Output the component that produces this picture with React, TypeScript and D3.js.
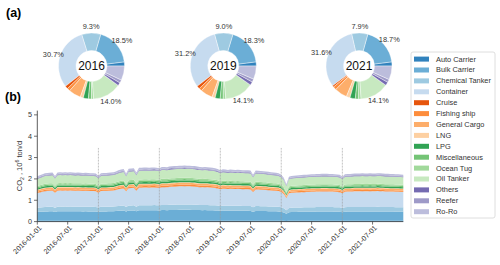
import React from 'react'
import * as d3 from 'd3'

const categories = [
  'Auto Carrier', 'Bulk Carrier', 'Chemical Tanker', 'Container', 'Cruise',
  'Fishing ship', 'General Cargo', 'LNG', 'LPG', 'Miscellaneous',
  'Ocean Tug', 'Oil Tanker', 'Others', 'Reefer', 'Ro-Ro',
]
const colors = [
  '#3182bd', '#6baed6', '#9ecae1', '#c6dbef', '#e6550d',
  '#fd8d3c', '#fdae6b', '#fdd0a2', '#31a354', '#74c476',
  '#a1d99b', '#c7e9c0', '#756bb1', '#9e9ac8', '#bcbddc',
]

// donut shares (%) per year
const pieYears = [2016, 2019, 2021]
const share2016 = [2, 18.5, 9.3, 30.7, 1.5, 1.5, 6, 1.5, 2.5, 1.5, 1, 14.0, 1.5, 1.5, 7]
const share2019 = [2, 18.3, 9.0, 31.2, 1.5, 1.5, 6, 1.5, 2.5, 1.5, 1.2, 14.1, 1.7, 1.5, 6.5]
const share2021 = [2, 18.7, 7.9, 31.6, 0.8, 1.6, 6.2, 1.8, 2.6, 1.6, 1.2, 14.1, 1.7, 1.5, 6.7]
const labeledCategories = ['Bulk Carrier', 'Chemical Tanker', 'Container', 'Oil Tanker']

// share of each category in the stacked area (%)
const areaShare = [1.7, 19.3, 9.5, 32.5, 0.3, 2.5, 3.5, 1, 3, 2.5, 2.5, 16, 1, 1.5, 3.2]

// total CO2 (10^6 ton/d), sampled on the 1st and 16th of each month
const total2016 = [2.12, 2.17, 2.22, 2.26, 2.28, 2.29, 2.30, 2.14, 2.30, 2.31, 2.30, 2.31,
  2.30, 2.31, 2.30, 2.29, 2.30, 2.29, 2.28, 2.29, 2.28, 2.27, 2.27, 2.25]
const total2017 = [2.15, 2.27, 2.28, 2.28, 2.29, 2.30, 2.31, 2.35, 2.40, 2.44, 2.46, 2.25,
  2.48, 2.49, 2.50, 2.30, 2.52, 2.52, 2.53, 2.53, 2.52, 2.53, 2.54, 2.52]
const total2018 = [2.50, 2.56, 2.56, 2.55, 2.58, 2.59, 2.60, 2.61, 2.62, 2.62, 2.63, 2.62,
  2.62, 2.61, 2.60, 2.58, 2.56, 2.55, 2.56, 2.55, 2.53, 2.52, 2.50, 2.47]
const total2019 = [2.40, 2.45, 2.44, 2.42, 2.44, 2.43, 2.42, 2.43, 2.42, 2.41, 2.40, 2.40,
  2.39, 2.20, 2.39, 2.38, 2.37, 2.36, 2.35, 2.33, 2.31, 2.30, 2.29, 2.27]
const total2020 = [2.20, 2.05, 1.75, 2.10, 2.14, 2.15, 2.16, 2.17, 2.18, 2.19, 2.20, 2.21,
  2.22, 2.22, 2.23, 2.23, 2.24, 2.24, 2.24, 2.23, 2.23, 2.22, 2.21, 2.19]
const total2021 = [2.10, 2.22, 2.23, 2.23, 2.24, 2.25, 2.25, 2.25, 2.26, 2.25, 2.25, 2.26,
  2.25, 2.25, 2.27, 2.26, 2.25, 2.24, 2.24, 2.23, 2.23, 2.22, 2.22, 2.21, 2.20]

const xTickLabels = [
  '2016-01-01', '2016-07-01', '2017-01-01', '2017-07-01', '2018-01-01', '2018-07-01',
  '2019-01-01', '2019-07-01', '2020-01-01', '2020-07-01', '2021-01-01', '2021-07-01',
]
const yearLines = ['2017-01-01', '2018-01-01', '2019-01-01', '2020-01-01', '2021-01-01']
const yTicks = [0, 1, 2, 3, 4, 5]

const FONT = '"Liberation Sans", Arial, sans-serif'
const pieCx = [91.5, 223.3, 359]
const pieCy = 66

export default function App() {
  const parse = d3.timeParse('%Y-%m-%d')
  const totals = [...total2016, ...total2017, ...total2018, ...total2019, ...total2020, ...total2021]
  const dates: Date[] = []
  for (let yr = 2016; yr <= 2021; yr++) {
    for (let m = 0; m < 12; m++) {
      dates.push(new Date(yr, m, 1))
      dates.push(new Date(yr, m, 16))
    }
  }
  dates.push(new Date(2022, 0, 1))

  const rows = totals.map((t, i) => {
    const row: any = { date: dates[i] }
    categories.forEach((c, k) => { row[c] = (t * areaShare[k]) / 100 })
    return row
  })
  const series = d3.stack<any>().keys(categories)(rows)

  const x = d3.scaleTime()
    .domain([parse('2016-01-01')!, parse('2022-01-01')!])
    .range([37.3, 403.3])
  const y = d3.scaleLinear().domain([0, 5.2]).range([221.6, 110.6])
  const area = d3.area<any>()
    .x((d) => x(d.data.date))
    .y0((d) => y(d[0]))
    .y1((d) => y(d[1]))

  const pie = d3.pie<number>().value((d) => d).sort(null)
    .startAngle(Math.PI / 2).endAngle(Math.PI / 2 - 2 * Math.PI)
  const arc = d3.arc<any>().innerRadius(15.5).outerRadius(33)
  const shares = [share2016, share2019, share2021]

  return (
    <svg width={500} height={265} style={{ position: 'absolute', left: 0, top: 0, fontFamily: FONT }}>
      <rect width={500} height={265} fill="#fff" />
      <text x={6} y={17} fontSize={12.5} fontWeight="bold">(a)</text>
      <text x={5} y={101} fontSize={12.5} fontWeight="bold">(b)</text>

      {pieYears.map((yr, p) => {
        const arcs = pie(shares[p])
        return (
          <g key={yr} transform={`translate(${pieCx[p]},${pieCy})`}>
            {arcs.map((a, i) => (
              <path key={i} d={arc(a) || ''} fill={colors[i]} stroke="#fff" strokeWidth={0.4} />
            ))}
            {arcs.map((a, i) => {
              if (!labeledCategories.includes(categories[i])) return null
              const mid = (a.startAngle + a.endAngle) / 2
              return (
                <text key={`l${i}`} x={40 * Math.sin(mid)} y={-40 * Math.cos(mid)}
                  textAnchor="middle" dominantBaseline="central" fontSize={7.4} fill="#333">
                  {a.data.toFixed(1)}%
                </text>
              )
            })}
            <text textAnchor="middle" dominantBaseline="central" fontSize={12} fill="#111">{yr}</text>
          </g>
        )
      })}

      {/* legend */}
      <rect x={411} y={52} width={84} height={166} fill="#fff" stroke="#d6d6d6" strokeWidth={0.8} rx={2} />
      {categories.map((c, i) => {
        const yy = 59 + i * 10.9
        return (
          <g key={c}>
            <rect x={414} y={yy - 2.4} width={15} height={5} fill={colors[i]} />
            <text x={436} y={yy} dominantBaseline="central" fontSize={7.4} fill="#333">{c}</text>
          </g>
        )
      })}

      {/* stacked area */}
      {series.map((s, i) => (
        <path key={s.key} d={area(s) || ''} fill={colors[i]} />
      ))}
      {yearLines.map((d) => (
        <line key={d} x1={x(parse(d)!)} x2={x(parse(d)!)} y1={y(0)} y2={y(3.45)}
          stroke="#999" strokeWidth={0.6} strokeDasharray="2,1" />
      ))}

      {/* axes */}
      <line x1={37.3} x2={37.3} y1={y(0)} y2={y(5.2)} stroke="#333" strokeWidth={0.8} />
      <line x1={37.3} x2={403.3} y1={y(0)} y2={y(0)} stroke="#333" strokeWidth={0.8} />
      {yTicks.map((t) => (
        <g key={t}>
          <line x1={34} x2={37.3} y1={y(t)} y2={y(t)} stroke="#333" strokeWidth={0.7} />
          <text x={32} y={y(t)} textAnchor="end" dominantBaseline="central" fontSize={7.2} fill="#333">{t}</text>
        </g>
      ))}
      {xTickLabels.map((d) => {
        const xx = x(parse(d)!)
        return (
          <g key={d}>
            <line x1={xx} x2={xx} y1={y(0)} y2={y(0) + 3} stroke="#333" strokeWidth={0.7} />
            <text transform={`translate(${xx + 3},${y(0) + 5}) rotate(-45)`} textAnchor="end"
              dominantBaseline="central" fontSize={7.2} fill="#333">{d}</text>
          </g>
        )
      })}
      <text transform={`translate(22,${y(2.6)}) rotate(-90)`} textAnchor="middle" fontSize={7.5} fill="#333">
        CO<tspan dy={2} fontSize={5.2}>2</tspan>
        <tspan dy={-2}> , 10</tspan>
        <tspan dy={-3} fontSize={5.2}>6</tspan>
        <tspan dy={3}> ton/d</tspan>
      </text>
    </svg>
  )
}
